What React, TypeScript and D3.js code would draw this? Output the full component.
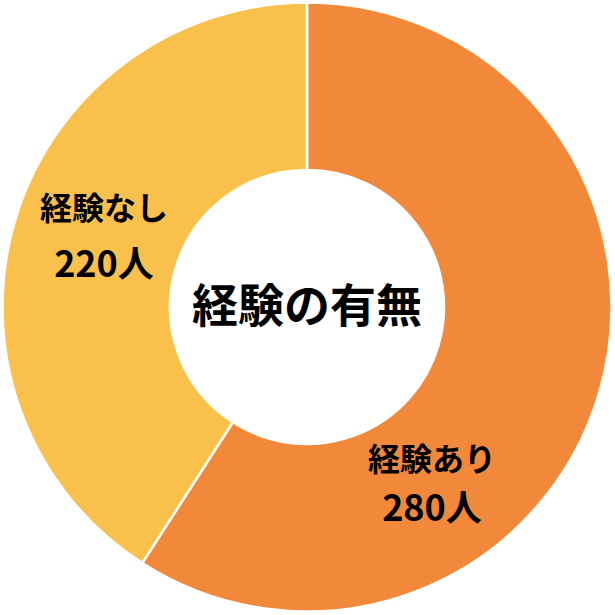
import React from "react";
import * as d3 from "d3";

const categories = ["経験あり", "経験なし"];
const counts = [280, 220];
// slice sizes as drawn in the reference (percent of the ring)
const sliceShares = [59.1, 40.9];
const colors = ["#F2883A", "#F9C04C"];
const centerTitle = "経験の有無";

const W = 615;
const H = 615;
const cx = 307;
const cy = 307;
const outerR = 304.5;
const innerR = 137;

const labelPos = [
  { x: 432, y1: 471, y2: 521 },
  { x: 104, y1: 220, y2: 277 },
];

export default function App() {
  const pie = d3
    .pie<number>()
    .sort(null)
    .value((d) => d);
  const arcs = pie(sliceShares);
  const arcGen = d3
    .arc<d3.PieArcDatum<number>>()
    .innerRadius(innerR)
    .outerRadius(outerR);
  const font = "'Noto Sans CJK JP', 'Noto Sans', sans-serif";

  return (
    <svg
      width={W}
      height={H}
      style={{ position: "absolute", left: 0, top: 0, background: "#fff" }}
    >
      <g transform={`translate(${cx},${cy})`}>
        {arcs.map((a, i) => (
          <path
            key={i}
            d={arcGen(a) || ""}
            fill={colors[i]}
            stroke="#fff"
            strokeWidth={2.5}
          />
        ))}
      </g>
      <text
        x={cx}
        y={302}
        textAnchor="middle"
        dominantBaseline="central"
        fontFamily={font}
        fontWeight={700}
        fontSize={46}
        fill="#000"
      >
        {centerTitle}
      </text>
      {categories.map((c, i) => (
        <g key={c}>
          <text
            x={labelPos[i].x}
            y={labelPos[i].y1}
            textAnchor="middle"
            fontFamily={font}
            fontWeight={700}
            fontSize={32}
            fill="#000"
          >
            {c}
          </text>
          <text
            x={labelPos[i].x}
            y={labelPos[i].y2}
            textAnchor="middle"
            fontFamily={font}
            fontWeight={700}
            fontSize={36}
            fill="#000"
          >
            {`${counts[i]}人`}
          </text>
        </g>
      ))}
    </svg>
  );
}
